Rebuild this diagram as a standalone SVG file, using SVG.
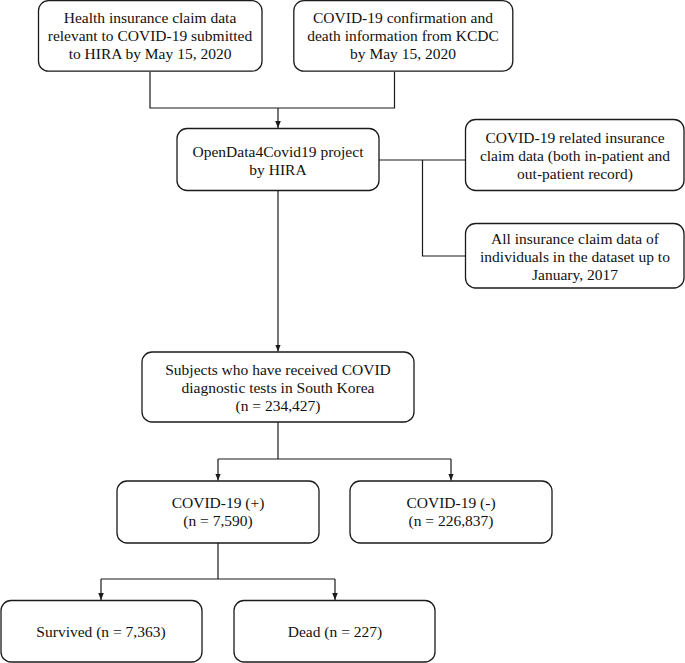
<svg xmlns="http://www.w3.org/2000/svg" width="685" height="663" viewBox="0 0 685 663">
<style>
.box{fill:#fff;stroke:#1a1a1a;stroke-width:1.3}
.t{font-family:"Liberation Serif","Times New Roman",serif;font-size:15.5px;fill:#111;text-anchor:middle}
.c{fill:none;stroke:#1a1a1a;stroke-width:1.2}
</style>
<defs>
<marker id="ah" viewBox="0 0 10 10" refX="10" refY="5" markerWidth="7" markerHeight="7" markerUnits="userSpaceOnUse" orient="auto">
<path d="M0,1 L10,5 L0,9 z" fill="#1a1a1a"/>
</marker>
</defs>
<g id="connectors">
<path class="c" d="M150,72 V108 H394.5 V72"/>
<path class="c" d="M278,108 V128" marker-end="url(#ah)"/>
<path class="c" d="M379,160 H465"/>
<path class="c" d="M422.5,160 V256 H465"/>
<path class="c" d="M278,191 V351.5" marker-end="url(#ah)"/>
<path class="c" d="M278,422 V459"/>
<path class="c" d="M218,459 H451"/>
<path class="c" d="M218,459 V480.5" marker-end="url(#ah)"/>
<path class="c" d="M451,459 V480.5" marker-end="url(#ah)"/>
<path class="c" d="M218,543 V579 M101,579 H335"/>
<path class="c" d="M101,579 V600" marker-end="url(#ah)"/>
<path class="c" d="M335,579 V600" marker-end="url(#ah)"/>
</g>
<g id="n1"><rect class="box" x="38.5" y="0.7" width="223.5" height="70.5" rx="10"/>
<text class="t" x="150" y="23">Health insurance claim data</text>
<text class="t" x="150" y="41">relevant to COVID-19 submitted</text>
<text class="t" x="150" y="59">to HIRA by May 15, 2020</text></g>
<g id="n2"><rect class="box" x="293.8" y="0.7" width="219" height="70.5" rx="10"/>
<text class="t" x="403" y="23">COVID-19 confirmation and</text>
<text class="t" x="403" y="41">death information from KCDC</text>
<text class="t" x="403" y="59">by May 15, 2020</text></g>
<g id="n3"><rect class="box" x="177" y="128.5" width="202" height="62" rx="10"/>
<text class="t" x="278" y="157">OpenData4Covid19 project</text>
<text class="t" x="278" y="175">by HIRA</text></g>
<g id="n4"><rect class="box" x="465.5" y="119.5" width="218.5" height="71" rx="10"/>
<text class="t" x="575" y="143">COVID-19 related insurance</text>
<text class="t" x="575" y="161">claim data (both in-patient and</text>
<text class="t" x="575" y="179">out-patient record)</text></g>
<g id="n5"><rect class="box" x="465.5" y="223.5" width="218.5" height="64.5" rx="10"/>
<text class="t" x="575" y="244">All insurance claim data of</text>
<text class="t" x="575" y="262">individuals in the dataset up to</text>
<text class="t" x="575" y="280">January, 2017</text></g>
<g id="n6"><rect class="box" x="142" y="352" width="272" height="70" rx="10"/>
<text class="t" x="278" y="375">Subjects who have received COVID</text>
<text class="t" x="278" y="393">diagnostic tests in South Korea</text>
<text class="t" x="278" y="411">(n = 234,427)</text></g>
<g id="n7"><rect class="box" x="117" y="481" width="202" height="62" rx="10"/>
<text class="t" x="218" y="508">COVID-19 (+)</text>
<text class="t" x="218" y="526">(n = 7,590)</text></g>
<g id="n8"><rect class="box" x="350" y="481" width="202" height="62" rx="10"/>
<text class="t" x="451" y="508">COVID-19 (-)</text>
<text class="t" x="451" y="526">(n = 226,837)</text></g>
<g id="n9"><rect class="box" x="1" y="600.5" width="201" height="61.5" rx="10"/>
<text class="t" x="101" y="637">Survived (n = 7,363)</text></g>
<g id="n10"><rect class="box" x="234" y="600.5" width="201" height="61.5" rx="10"/>
<text class="t" x="335" y="637">Dead (n = 227)</text></g>
</svg>
